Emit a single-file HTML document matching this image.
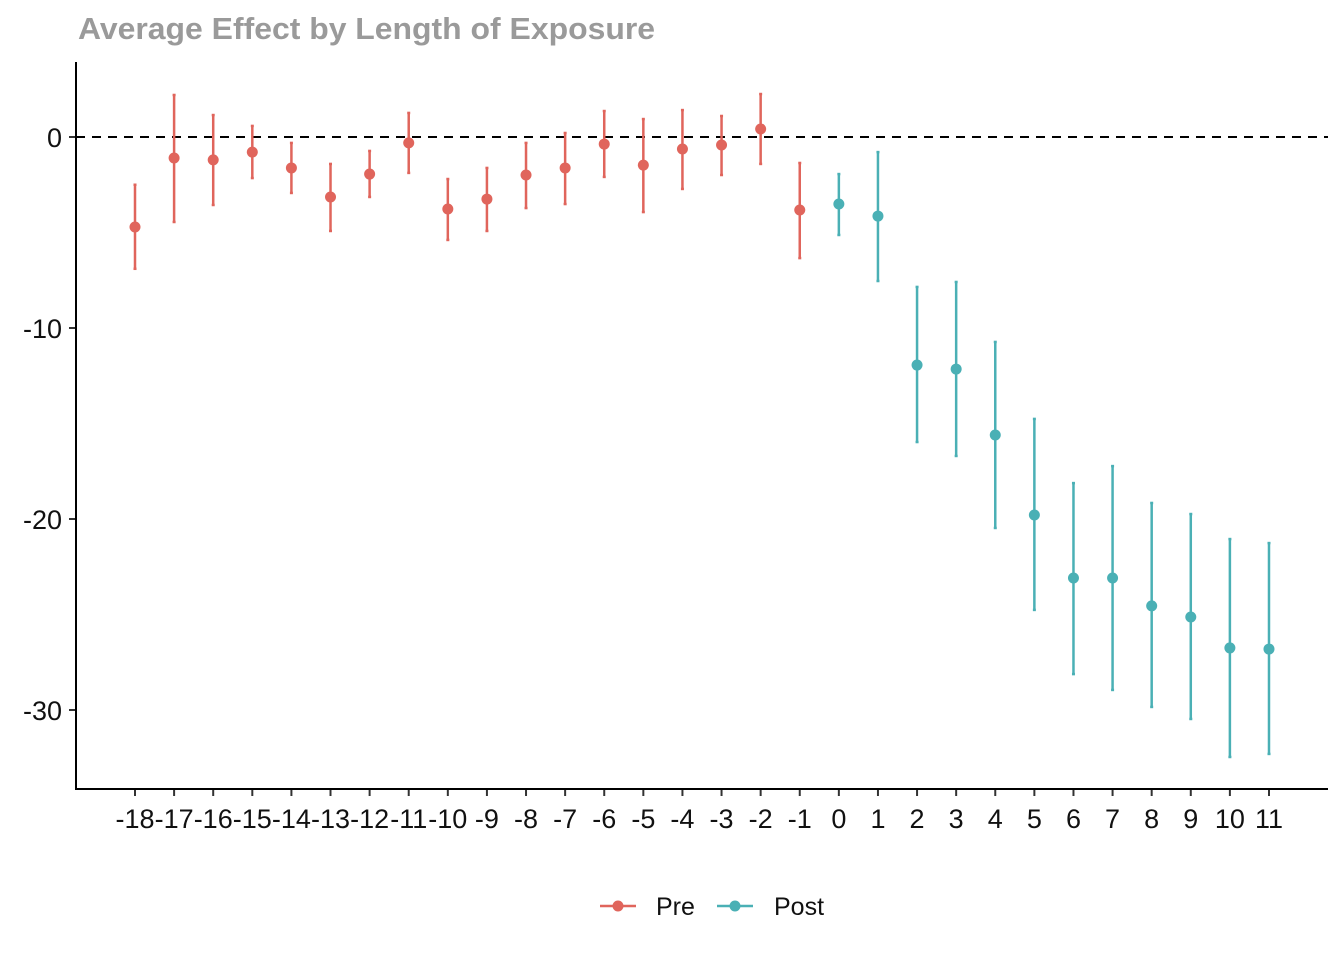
<!DOCTYPE html>
<html><head><meta charset="utf-8"><style>
body{margin:0;background:#fff;}
svg text{font-family:"Liberation Sans",Arial,sans-serif;}
</style></head><body>
<svg id="chart" width="1344" height="960" xmlns="http://www.w3.org/2000/svg">
<text x="78" y="39" font-size="31" font-weight="bold" fill="#9a9a9a" textLength="577" lengthAdjust="spacingAndGlyphs">Average Effect by Length of Exposure</text>
<g id="marks"></g>
<g id="axes"></g>
<g>
<line x1="600" y1="906" x2="636" y2="906" stroke="#e0655c" stroke-width="2.5"/>
<circle cx="618" cy="906" r="5.5" fill="#e0655c"/>
<text x="656" y="915" font-size="25" fill="#111">Pre</text>
<line x1="717" y1="906" x2="753" y2="906" stroke="#4ab0b5" stroke-width="2.5"/>
<circle cx="735" cy="906" r="5.5" fill="#4ab0b5"/>
<text x="774" y="915" font-size="25" fill="#111">Post</text>
</g>
</svg>
<script>
const periods=[-18,-17,-16,-15,-14,-13,-12,-11,-10,-9,-8,-7,-6,-5,-4,-3,-2,-1,0,1,2,3,4,5,6,7,8,9,10,11];
const estimates=[-4.71,-1.1,-1.2,-0.79,-1.62,-3.14,-1.94,-0.31,-3.77,-3.25,-1.99,-1.62,-0.37,-1.47,-0.63,-0.42,0.42,-3.82,-3.51,-4.14,-11.94,-12.15,-15.6,-19.79,-23.09,-23.09,-24.55,-25.13,-26.75,-26.81];
const upper=[-2.5,2.2,1.15,0.58,-0.31,-1.41,-0.73,1.26,-2.2,-1.62,-0.31,0.21,1.36,0.94,1.41,1.1,2.25,-1.36,-1.94,-0.79,-7.85,-7.59,-10.73,-14.76,-18.12,-17.23,-19.16,-19.74,-21.05,-21.26];
const lower=[-6.9,-4.45,-3.56,-2.15,-2.93,-4.92,-3.14,-1.88,-5.39,-4.92,-3.72,-3.51,-2.09,-3.93,-2.72,-1.99,-1.41,-6.34,-5.13,-7.54,-15.97,-16.7,-20.47,-24.76,-28.12,-28.95,-29.84,-30.47,-32.46,-32.3];
const yTicks=[0,-10,-20,-30];
const NS="http://www.w3.org/2000/svg";
const xs=p=>135+(p+18)*39.103;
const ys=v=>137-v*19.1;
function mk(t,a,parent){const e=document.createElementNS(NS,t);for(const k in a)e.setAttribute(k,a[k]);parent.appendChild(e);return e;}
const marks=document.getElementById('marks'),axes=document.getElementById('axes');
const zl=mk('line',{x1:76,x2:1328,y1:ys(0),y2:ys(0),stroke:'#000','stroke-width':2,'stroke-dasharray':'9,7'},marks);


periods.forEach((p,i)=>{
  const c=p<0?'#e0655c':'#4ab0b5';
  const g=mk('g',{},marks);
  
  
  const x=xs(p);
  mk('line',{x1:x,x2:x,y1:ys(upper[i]),y2:ys(lower[i]),stroke:c,'stroke-width':2.5},g);
  mk('line',{x1:x-1.5,x2:x+1.5,y1:ys(upper[i]),y2:ys(upper[i]),stroke:c,'stroke-width':2.5},g);
  mk('line',{x1:x-1.5,x2:x+1.5,y1:ys(lower[i]),y2:ys(lower[i]),stroke:c,'stroke-width':2.5},g);
  mk('circle',{cx:x,cy:ys(estimates[i]),r:5.5,fill:c},g);
  const t=mk('text',{x:x,y:828,'font-size':27,'text-anchor':'middle',fill:'#111'},axes);
  t.textContent=p;
  
  
  mk('line',{x1:x,x2:x,y1:789,y2:796,stroke:'#333','stroke-width':2},axes);
});
yTicks.forEach(v=>{
  const t=mk('text',{x:62,y:ys(v)+10,'font-size':27,'text-anchor':'end',fill:'#111'},axes);
  t.textContent=v;
  
  
  mk('line',{x1:69,x2:76,y1:ys(v),y2:ys(v),stroke:'#333','stroke-width':2},axes);
});
const ya=mk('line',{x1:76,x2:76,y1:62,y2:790,stroke:'#000','stroke-width':2},axes);


const xa=mk('line',{x1:75,x2:1328,y1:789,y2:789,stroke:'#000','stroke-width':2},axes);


</script>
</body></html>
